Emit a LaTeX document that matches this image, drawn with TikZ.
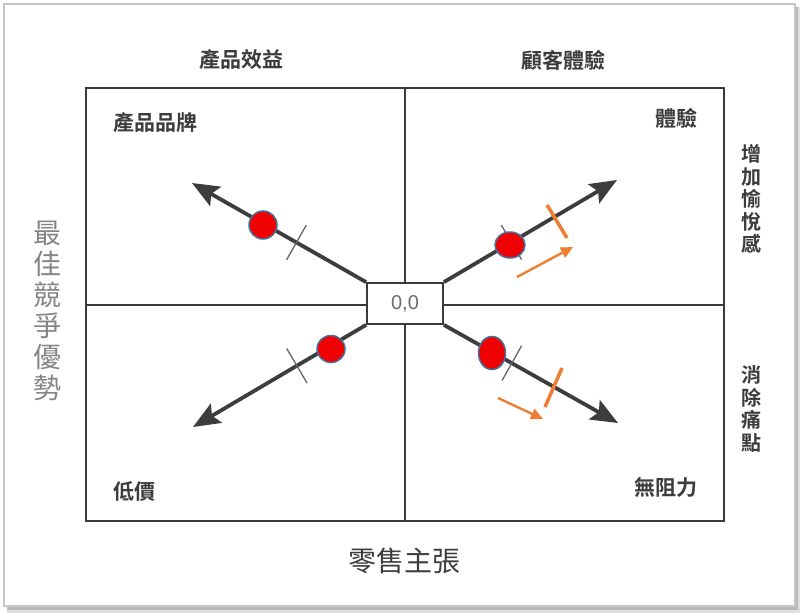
\documentclass[tikz,border=0pt]{standalone}
\usepackage{fontspec}
\newfontfamily\cjk{Noto Sans CJK TC}[BoldFont={Noto Sans CJK TC Bold}]
\newfontfamily\arialish{Liberation Sans}
\usetikzlibrary{arrows.meta,calc,shapes.geometric}
\definecolor{txt}{HTML}{3C3C3C}
\definecolor{lgray}{HTML}{858585}
\definecolor{linec}{HTML}{3A3A3A}
\definecolor{arrc}{HTML}{3D3D3D}
\definecolor{dotred}{HTML}{F00000}
\definecolor{dotedge}{HTML}{41719C}
\definecolor{orng}{HTML}{ED7D31}
\begin{document}
\begin{tikzpicture}[x=1pt,y=-1pt,
  lab/.style={font=\cjk\bfseries\fontsize{21}{24}\selectfont, text=txt, inner sep=0},
  vlab/.style={font=\cjk\bfseries\fontsize{20}{22.6}\selectfont, text=txt, inner sep=0, align=center},
  grid/.style={draw=linec, line width=1.6pt},
  bigarrow/.style={draw=arrc, line width=3.8pt, -{Stealth[length=27pt,width=22pt,inset=5pt]}},
  thintick/.style={draw=gray!80!black, line width=1.3pt},
  otick/.style={draw=orng, line width=3.5pt},
  oarrow/.style={draw=orng, line width=2.4pt, -{Triangle[length=12pt,width=11pt]}},
  dot/.style={ellipse, fill=dotred, draw=dotedge, line width=1.5pt, inner sep=0},
  zerobox/.style={draw=linec, line width=1.8pt, fill=white, minimum width=76pt, minimum height=41pt, inner sep=0, font=\arialish\fontsize{20}{22}\selectfont, text=gray!85!black}
]
\useasboundingbox (0,0) rectangle (800,613);
\fill[white] (0,0) rectangle (800,613);
% frame with shadow
\fill[gray!25] (7,7) rectangle (800,613);
\fill[gray!55] (7,7) rectangle (798,610);
\filldraw[fill=white, draw=gray!45, line width=1.5pt] (4,4) rectangle (795,606);

% outer box and quadrant lines
\draw[grid] (86,88) rectangle (724,521);
\coordinate (vt) at (405,88);
\coordinate (vb) at (405,521);
\coordinate (hl) at (86,305);
\coordinate (hr) at (724,305);
\draw[grid] (vt) -- (vb);
\draw[grid] (hl) -- (hr);

% arrow tips
\coordinate (ul) at (192,183);
\coordinate (ur) at (617,180);
\coordinate (ll) at (193,427);
\coordinate (lr) at (618,423);

\node[zerobox] (o) at (405,303.5) {0,0};

\draw[bigarrow] (o.north west) -- (ul);
\draw[bigarrow] (o.south west) -- (ll);
\draw[bigarrow] (o.north east) -- (ur);
\draw[bigarrow] (o.south east) -- (lr);

% thin ticks
\coordinate (tUL) at ($(o.north west)!0.40!(ul)$);
\coordinate (tLL) at ($(o.south west)!0.40!(ll)$);
\coordinate (tUR) at ($(o.north east)!0.39!(ur)$);
\coordinate (tLR) at ($(o.south east)!0.39!(lr)$);
\draw[thintick] ($(tUL)!20pt!90:(ul)$) -- ($(tUL)!20pt!-90:(ul)$);
\draw[thintick] ($(tLL)!20pt!90:(ll)$) -- ($(tLL)!20pt!-90:(ll)$);
\draw[thintick] ($(tUR)!20pt!90:(ur)$) -- ($(tUR)!20pt!-90:(ur)$);
\draw[thintick] ($(tLR)!20pt!90:(lr)$) -- ($(tLR)!20pt!-90:(lr)$);

% red dots
\node[dot, minimum width=28pt, minimum height=28pt] (d1) at (263,225) {};
\node[dot, minimum width=28pt, minimum height=27pt] (d2) at (331,349) {};
\node[dot, minimum width=30pt, minimum height=26pt] (d3) at (510,245) {};
\node[dot, minimum width=27pt, minimum height=33pt] (d4) at (492,353) {};

% orange ticks and arrows
\coordinate (ot1a) at (547,205);
\coordinate (ot1b) at (567,238);
\coordinate (ot2a) at (562,368);
\coordinate (ot2b) at (545,407);
\draw[otick] (ot1a) -- (ot1b);
\draw[otick] (ot2a) -- (ot2b);
\coordinate (oa1s) at (517,277);
\coordinate (oa1e) at (573,247);
\coordinate (oa2s) at (498,398);
\coordinate (oa2e) at (543,419);
\draw[oarrow] (oa1s) -- (oa1e);
\draw[oarrow] (oa2s) -- (oa2e);

% labels
\node[lab] (t1) at (241,60) {產品效益};
\node[lab] (t2) at (563,60) {顧客體驗};
\node[lab] (q1) at (155,123) {產品品牌};
\node[lab] (q2) at (676,118) {體驗};
\node[lab] (q3) at (134,491) {低價};
\node[lab] (q4) at (666,487) {無阻力};
\node[vlab] (r1) at (751,199) {增\\加\\愉\\悅\\感};
\node[vlab] (r2) at (751,409) {消\\除\\痛\\點};
\node[inner sep=0, align=center, font=\cjk\fontsize{28}{31}\selectfont, text=lgray] (lft) at (47,311) {最\\佳\\競\\爭\\優\\勢};
\node[inner sep=0, font=\cjk\fontsize{28}{30}\selectfont, text=txt] (bot) at (404,561) {零售主張};
\end{tikzpicture}
\end{document}
